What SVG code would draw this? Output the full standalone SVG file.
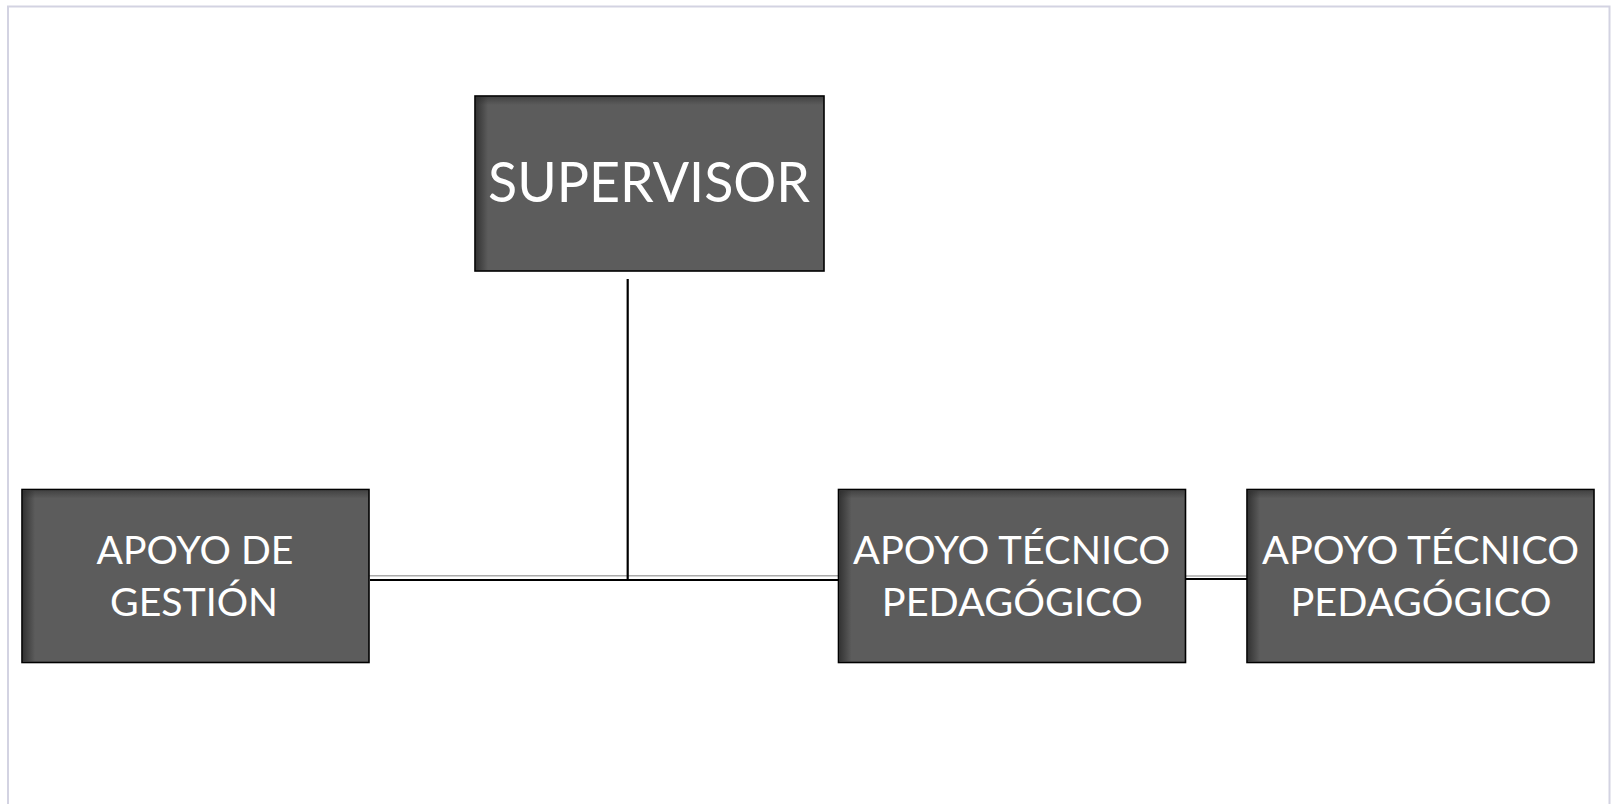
<svg xmlns="http://www.w3.org/2000/svg" width="1612" height="804" viewBox="0 0 1612 804">
<style>
.box{fill:#5c5c5c;stroke:#000;stroke-width:1.6}
.shade{fill:url(#lshade)}
.tshade{fill:url(#tshade)}
.lbl{font-family:Lato,"Open Sans","Liberation Sans",sans-serif;fill:#fff;text-anchor:middle}
.big{font-size:57px}
.med{font-size:39px}
.blk{stroke:#000;stroke-width:2.2;fill:none}
.gry{stroke:#aaa;stroke-width:1.6;fill:none}
</style>
<defs>
<linearGradient id="lshade" x1="0" y1="0" x2="1" y2="0">
<stop offset="0" stop-color="#2a2a2a" stop-opacity="0.8"/>
<stop offset="1" stop-color="#2a2a2a" stop-opacity="0"/>
</linearGradient>
<linearGradient id="tshade" x1="0" y1="0" x2="0" y2="1">
<stop offset="0" stop-color="#2a2a2a" stop-opacity="0.5"/>
<stop offset="1" stop-color="#2a2a2a" stop-opacity="0"/>
</linearGradient>
</defs>
<rect x="0" y="0" width="1612" height="804" fill="#fff"/>
<path d="M8 810 V6.5 H1609.5 V810" fill="none" stroke="#d3d3e2" stroke-width="2"/>
<g id="connectors">
<line class="gry" x1="369" y1="575.8" x2="838" y2="575.8"/>
<line class="blk" x1="370" y1="580" x2="838" y2="580"/>
<line class="blk" x1="627.7" y1="279" x2="627.7" y2="580"/>
<line class="gry" x1="1186" y1="576" x2="1247" y2="576"/>
<line class="blk" x1="1186" y1="579" x2="1247" y2="579"/>
</g>
<g id="supervisor">
<rect class="box" x="475" y="96" width="349" height="175"/>
<rect class="shade" x="476" y="97" width="12" height="173"/>
<rect class="tshade" x="476" y="97" width="347" height="8"/>
<text class="lbl big" x="649" y="201.5" textLength="322" lengthAdjust="spacingAndGlyphs">SUPERVISOR</text>
</g>
<g id="apoyo-gestion">
<rect class="box" x="22" y="489.5" width="347" height="173"/>
<rect class="shade" x="23" y="490.5" width="12" height="171"/>
<rect class="tshade" x="23" y="490.5" width="345" height="8"/>
<text class="lbl med" x="195" y="563.5" textLength="197" lengthAdjust="spacingAndGlyphs">APOYO DE</text>
<text class="lbl med" x="194" y="615.7" textLength="168" lengthAdjust="spacingAndGlyphs">GESTIÓN</text>
</g>
<g id="apoyo-tecnico-1">
<rect class="box" x="838.5" y="489.5" width="347" height="173"/>
<rect class="shade" x="839.5" y="490.5" width="12" height="171"/>
<rect class="tshade" x="839.5" y="490.5" width="345" height="8"/>
<text class="lbl med" x="1011.5" y="564" textLength="317" lengthAdjust="spacingAndGlyphs">APOYO TÉCNICO</text>
<text class="lbl med" x="1012.3" y="615.7" textLength="261" lengthAdjust="spacingAndGlyphs">PEDAGÓGICO</text>
</g>
<g id="apoyo-tecnico-2">
<rect class="box" x="1247" y="489.5" width="347" height="173"/>
<rect class="shade" x="1248" y="490.5" width="12" height="171"/>
<rect class="tshade" x="1248" y="490.5" width="345" height="8"/>
<text class="lbl med" x="1420.5" y="564" textLength="317" lengthAdjust="spacingAndGlyphs">APOYO TÉCNICO</text>
<text class="lbl med" x="1421" y="615.7" textLength="261" lengthAdjust="spacingAndGlyphs">PEDAGÓGICO</text>
</g>
</svg>
